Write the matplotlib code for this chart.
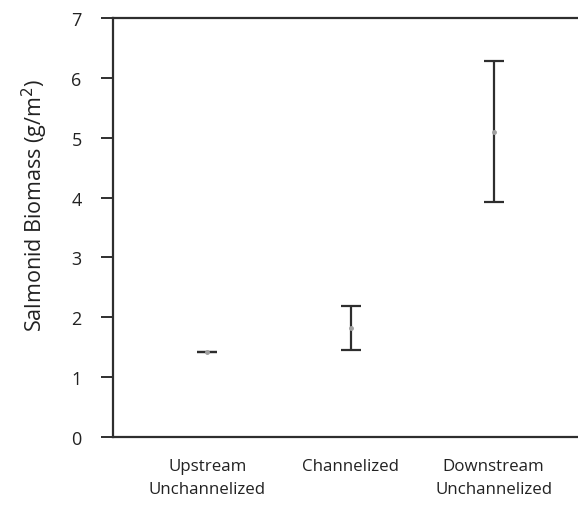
import matplotlib.pyplot as plt

sites = ["Upstream\nUnchannelized", "Channelized", "Downstream\nUnchannelized"]
biomass_mean = [1.42, 1.82, 5.10]
biomass_err = [0.0, 0.375, 1.18]
y_ticks = [0, 1, 2, 3, 4, 5, 6, 7]

plt.rcParams["font.family"] = ["Open Sans", "DejaVu Sans"]

fig = plt.figure(figsize=(5.78, 5.06), dpi=100)
ax = fig.add_axes([0.1955, 0.1344, 0.8045, 0.8281])

x = list(range(len(sites)))
ax.errorbar(
    x,
    biomass_mean,
    yerr=biomass_err,
    fmt="o",
    markersize=2.5,
    color="#a0a0a0",
    ecolor="#2e2e2e",
    elinewidth=1.6,
    capsize=7.5,
    capthick=1.6,
)

ax.set_xlim(-0.66, 2.59)
ax.set_ylim(0, 7)
ax.set_yticks(y_ticks)
ax.set_xticks(x)
ax.set_xticklabels(sites, fontsize=12.2, color="#222222", linespacing=1.6)
ax.tick_params(axis="x", length=0, pad=15)
ax.tick_params(axis="y", length=8.5, width=1.4, color="#2e2e2e",
               labelsize=13, labelcolor="#222222", pad=14)
ax.set_ylabel("Salmonid Biomass (g/m$^2$)", fontsize=15.5, color="#222222")
ax.yaxis.set_label_coords(-0.135, 0.555)

for side in ["left", "top", "bottom"]:
    ax.spines[side].set_linewidth(1.6)
    ax.spines[side].set_color("#2e2e2e")
ax.spines["right"].set_visible(False)

plt.savefig("out.png", dpi=100)
plt.close()
